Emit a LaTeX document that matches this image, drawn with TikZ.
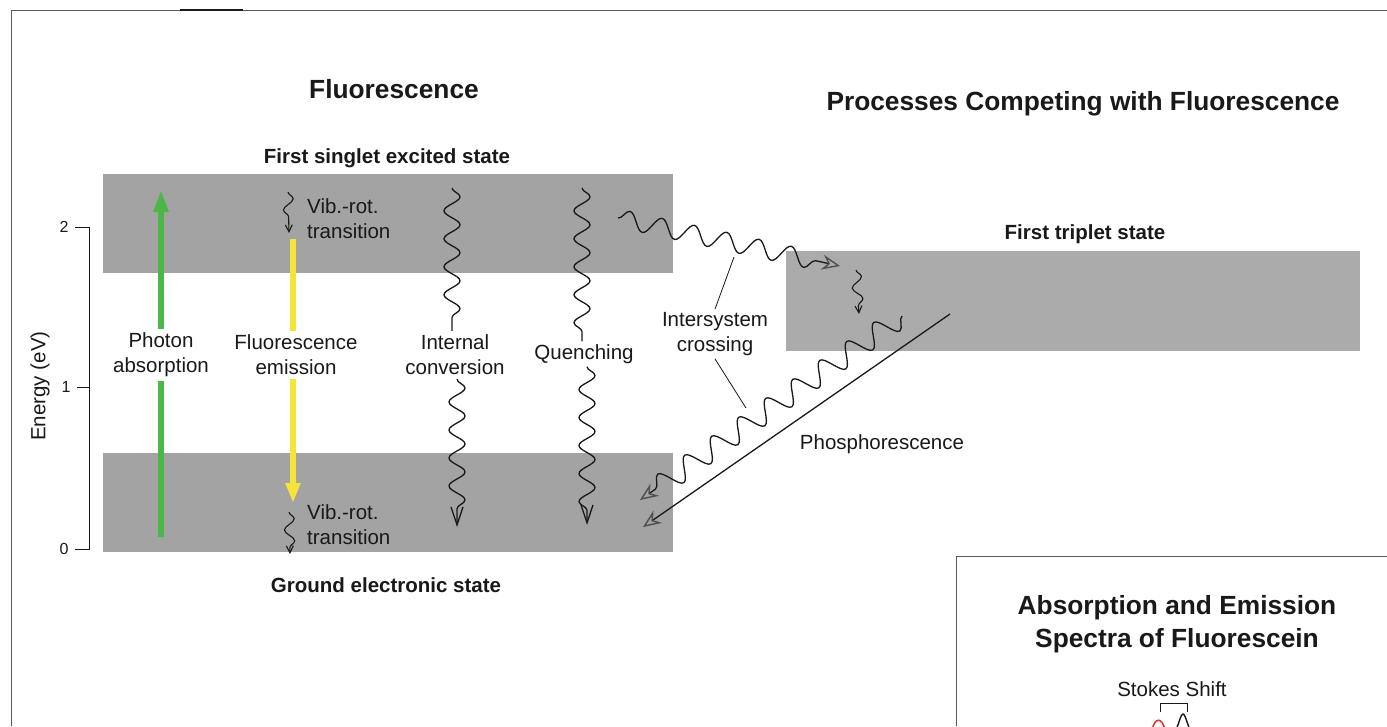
\documentclass[tikz,border=0pt]{standalone}
\usepackage{fontspec}
\setmainfont{Liberation Sans}
\usetikzlibrary{arrows.meta,decorations.pathmorphing,calc}

\definecolor{band}{RGB}{163,163,163}
\definecolor{tband}{RGB}{171,171,171}
\definecolor{absgreen}{RGB}{76,182,72}
\definecolor{emyellow}{RGB}{246,228,58}
\definecolor{ink}{RGB}{25,25,25}
\definecolor{headgray}{RGB}{80,80,80}
\definecolor{framegray}{RGB}{90,90,90}
\definecolor{specred}{RGB}{215,60,60}

\begin{document}
\begin{tikzpicture}[x=1pt,y=-1pt,
  every node/.style={text=ink, inner sep=0pt},
  title/.style={font=\fontsize{26.3}{33}\selectfont\bfseries, align=center},
  statelbl/.style={font=\fontsize{20.5}{25}\selectfont\bfseries},
  lbl/.style={font=\fontsize{20.5}{25}\selectfont, align=center},
  gaplbl/.style={lbl, inner xsep=0pt, inner ysep=4pt},
  ticklbl/.style={font=\fontsize{16}{18}\selectfont},
  bigarrow/.style={line width=6pt},
  wavy/.style={draw=ink, line width=1.3pt, decorate,
    decoration={snake, segment length=28pt, amplitude=8pt}},
  wavytip/.style={draw=ink, line width=1.3pt, decorate,
    decoration={snake, segment length=28pt, amplitude=8pt, post length=8pt}},
  wiggle/.style={draw=ink, line width=1.1pt, decorate,
    decoration={snake, segment length=22pt, amplitude=5pt, post length=6pt}},
  barb/.style={-{Straight Barb[length=18pt,width=12pt,line width=1.3pt]}},
  smallbarb/.style={-{Straight Barb[length=7pt,width=7pt,line width=1.1pt]}},
  openhead/.style={-{Stealth[open,length=18pt,width=15pt,inset=6pt,line width=1.4pt,color=headgray]}},
]
\useasboundingbox (0,0) rectangle (1387,726);
\fill[white] (0,0) rectangle (1387,726);

% frame of the panel
\draw[framegray, line width=1pt] (11,726) -- (11,10) -- (1387,10);
\draw[ink, line width=1.8pt] (180,10) -- (243,10);

% energy bands
\fill[band] (103,174) rectangle (673,273);
\fill[band] (103,453) rectangle (673,552);
\fill[tband] (786,251) rectangle (1360,351);

% titles
\node[title] (tfl) at (394,89) {Fluorescence};
\node[title] (tcomp) at (1083,104) {Processes Competing with Fluorescence};

% state names
\node[statelbl] (s1) at (387,158) {First singlet excited state};
\node[statelbl] (s0) at (386,585) {Ground electronic state};
\node[statelbl] (t1) at (1085,234) {First triplet state};

% energy axis
\draw[ink, line width=1pt] (75,227) -- (89,227) -- (89,549) -- (75,549);
\draw[ink, line width=1pt] (77,387) -- (89,387);
\node[ticklbl] (e2) at (64,227) {2};
\node[ticklbl] (e1) at (66,387) {1};
\node[ticklbl] (e0) at (64,549) {0};
\node[lbl, rotate=90] (eaxis) at (40,386) {Energy (eV)};

% photon absorption
\node[gaplbl] (pa) at (161,355) {Photon\\absorption};
\coordinate (paB) at (161,537);
\coordinate (paT) at (161,190);
\draw[absgreen, bigarrow] (paB) -- (paB |- pa.south);
\draw[absgreen, bigarrow, -{Triangle[length=22pt,width=14pt]}] (paT |- pa.north) -- (paT);

% fluorescence emission
\node[gaplbl] (fe) at (296,355) {Fluorescence\\emission};
\coordinate (feT) at (293,239);
\coordinate (feB) at (293,503);
\draw[emyellow, bigarrow] (feT) -- (feT |- fe.north);
\draw[emyellow, bigarrow, -{Triangle[length=20pt,width=14pt]}] (feB |- fe.south) -- (feB);

% vibrational-rotational relaxation
\coordinate (vr1a) at (288,192);
\coordinate (vr1b) at (289,233);
\draw[wiggle, smallbarb] (vr1a) -- (vr1b);
\node[lbl, anchor=west, align=left] (vr1) at (307,219) {Vib.-rot.\\transition};
\coordinate (vr2a) at (289,512);
\coordinate (vr2b) at (290,554);
\draw[wiggle, smallbarb] (vr2a) -- (vr2b);
\node[lbl, anchor=west, align=left] (vr2) at (307,525) {Vib.-rot.\\transition};

% internal conversion
\node[gaplbl] (ic) at (455,355) {Internal\\conversion};
\coordinate (icT) at (452,188);
\coordinate (icB) at (457,527);
\draw[wavy] (icT) -- (icT |- ic.north);
\draw[wavytip, barb] (icB |- ic.south) -- (icB);

% quenching
\node[gaplbl, inner ysep=3pt] (qu) at (584,354) {Quenching};
\coordinate (quT) at (582,188);
\coordinate (quB) at (587,525);
\draw[wavy] (quT) -- (quT |- qu.north);
\draw[wavytip, barb] (quB |- qu.south) -- (quB);

% intersystem crossing
\coordinate (isc1a) at (618,218);
\coordinate (isc1b) at (840,266);
\draw[draw=ink, line width=1.3pt, decorate,
  decoration={snake, segment length=33pt, amplitude=9pt, post length=12pt},
  openhead] (isc1a) -- (isc1b);
\coordinate (tvra) at (856,270);
\coordinate (tvrb) at (859,314);
\draw[wiggle, smallbarb] (tvra) -- (tvrb);
\coordinate (isc2a) at (902,316);
\coordinate (isc2b) at (640,500);
\draw[draw=ink, line width=1.3pt, decorate,
  decoration={snake, segment length=33pt, amplitude=11pt, post length=14pt},
  openhead] (isc2a) -- (isc2b);
\node[lbl] (isc) at (715,334) {Intersystem\\crossing};
\coordinate (iscL1) at (734,257);
\coordinate (iscL2) at (746,408);
\draw[ink, line width=0.8pt] ($(isc.north)+(0,-3)$) -- (iscL1);
\draw[ink, line width=0.8pt] ($(isc.south)+(0,3)$) -- (iscL2);

% phosphorescence
\coordinate (phA) at (950,314);
\coordinate (phB) at (643,527);
\draw[ink, line width=1.3pt, openhead] (phA) -- (phB);
\node[lbl] (ph) at (882,444) {Phosphorescence};

% spectra panel
\draw[framegray, line width=1pt] (956,726) -- (956,556) -- (1387,556);
\node[title] (spec) at (1177,624) {Absorption and Emission\\Spectra of Fluorescein};
\node[lbl] (stokes) at (1172,689) {Stokes Shift};
\draw[ink, line width=1pt] (1160,712) -- (1160,703) -- (1187,703) -- (1187,712);
\begin{scope}
  \clip (956,556) rectangle (1387,726);
  \draw[specred, line width=1.6pt] (1152,730) .. controls (1155,717) and (1162,717) .. (1165,730);
  \draw[ink, line width=1.4pt] (1176,730) .. controls (1180,720) and (1181,714) .. (1183,714)
    .. controls (1185,714) and (1186,720) .. (1190,730);
\end{scope}
\end{tikzpicture}
\end{document}
